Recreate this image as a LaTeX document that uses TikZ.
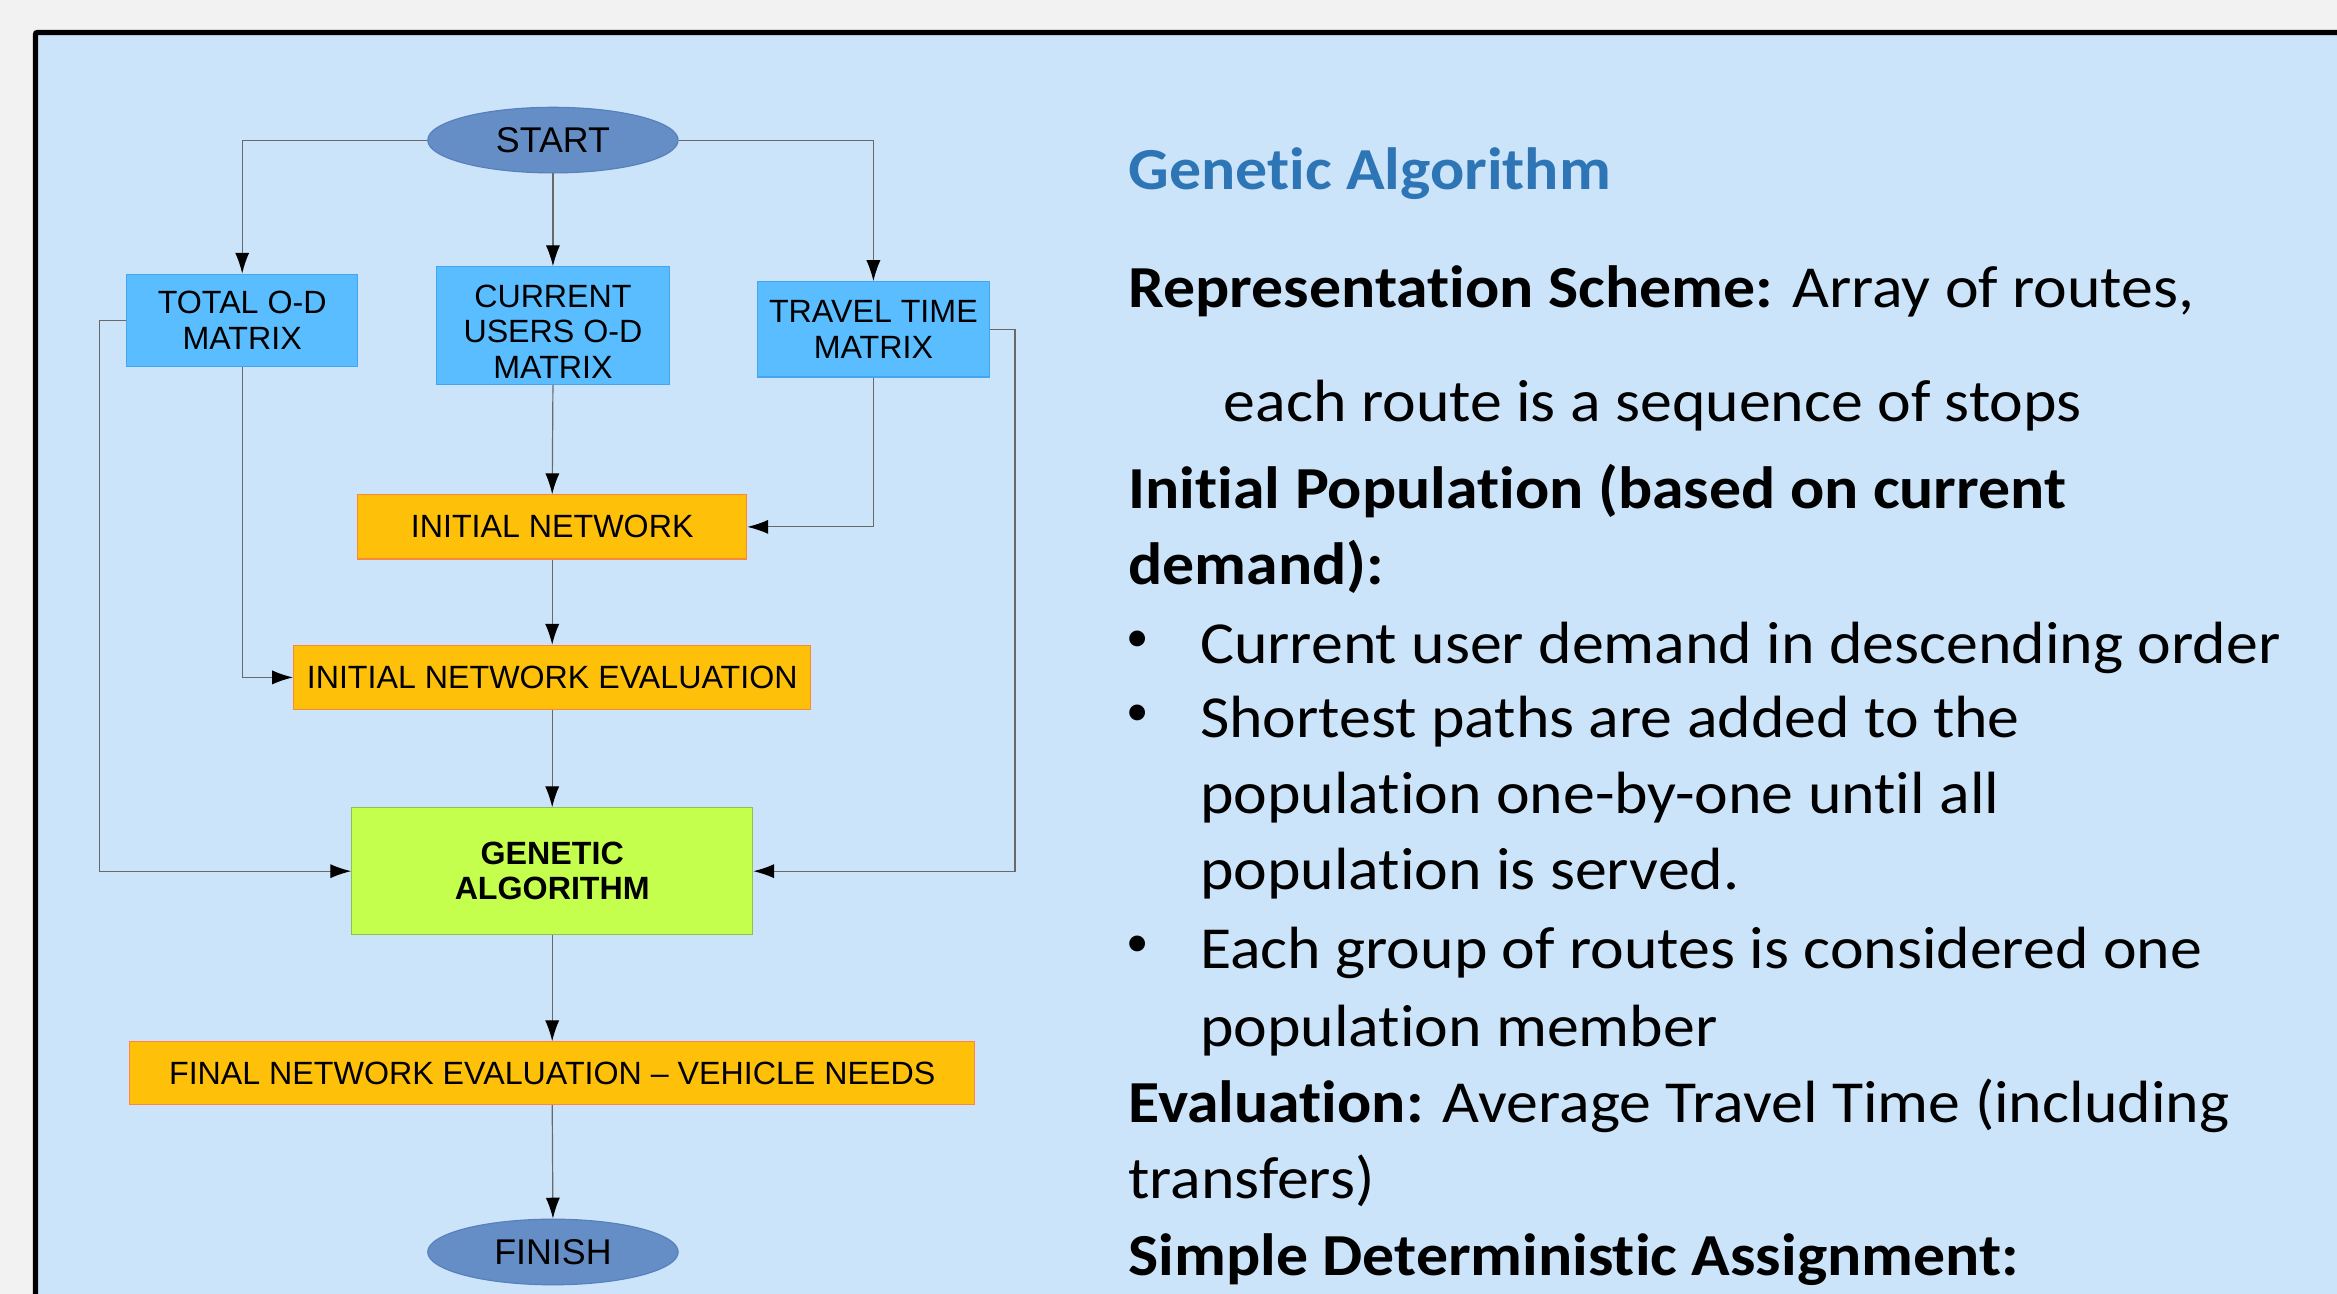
\documentclass[tikz,border=0pt]{standalone}
\usepackage{fontspec}
\setmainfont{Carlito}[Ligatures={TeX,NoCommon},FakeStretch=1.07]
\newfontfamily\bulfont{Carlito}
\newfontfamily\arialf{Liberation Sans}
\usetikzlibrary{arrows.meta,shapes.geometric}
\definecolor{bgout}{RGB}{242,242,242}
\definecolor{panel}{RGB}{204,228,249}
\definecolor{ovalfill}{RGB}{101,142,199}
\definecolor{ovaldraw}{RGB}{88,128,188}
\definecolor{matfill}{RGB}{89,189,255}
\definecolor{matdraw}{RGB}{70,165,240}
\definecolor{orfill}{RGB}{255,192,10}
\definecolor{ordraw}{RGB}{255,135,60}
\definecolor{grfill}{RGB}{196,255,77}
\definecolor{grdraw}{RGB}{140,195,80}
\definecolor{conn}{RGB}{105,105,105}
\definecolor{titleblue}{RGB}{46,117,182}
\tikzset{
  flowtext/.style={font=\arialf\fontsize{21.6}{23.8}\selectfont, align=center, inner sep=0pt},
  oval/.style={ellipse, flowtext, font=\arialf\fontsize{24}{26}\selectfont, fill=ovalfill, draw=ovaldraw, line width=0.8pt, minimum width=168pt, minimum height=44pt},
  matbox/.style={rectangle, flowtext, fill=matfill, draw=matdraw, line width=0.8pt},
  orbox/.style={rectangle, flowtext, fill=orfill, draw=ordraw, line width=0.8pt},
  grbox/.style={rectangle, flowtext, fill=grfill, draw=grdraw, line width=0.8pt, font=\arialf\bfseries\fontsize{21.6}{23.8}\selectfont},
  link/.style={draw=conn, line width=0.8pt, -{Latex[length=14pt,width=9.5pt,color=black]}},
  body/.style={anchor=base west, inner sep=0pt, font=\fontsize{40}{48}\selectfont},
  bul/.style={anchor=center, inner sep=0pt, font=\bulfont\fontsize{30}{36}\selectfont},
}
\begin{document}
\begin{tikzpicture}[x=1pt,y=-1pt]
\useasboundingbox (0,0) rectangle (1568,868);
\fill[bgout] (0,0) rectangle (1568,868);
\fill[panel] (22,20) rectangle (1580,880);
\draw[line width=3.5pt, rounded corners=1.5pt] (23.75,880) -- (23.75,21.75) -- (1580,21.75);

% flowchart
\node[oval] (start) at (371,94) {START};
\node[matbox, minimum width=155pt, minimum height=62pt] (tot) at (162.5,215) {TOTAL O-D\\MATRIX};
\node[matbox, minimum width=156pt, minimum height=79pt] (cur) at (371,218.5) {};
\node[flowtext] (curtxt) at (371,222.5) {CURRENT\\USERS O-D\\MATRIX};
\node[matbox, minimum width=156pt, minimum height=64pt] (trav) at (586,221) {TRAVEL TIME\\MATRIX};
\node[orbox, minimum width=261pt, minimum height=43pt] (inet) at (370.5,353.5) {INITIAL NETWORK};
\node[orbox, minimum width=347pt, minimum height=43pt] (ine) at (370.5,454.5) {INITIAL NETWORK EVALUATION};
\node[grbox, minimum width=269pt, minimum height=85pt] (ga) at (370.5,584.5) {GENETIC\\ALGORITHM};
\node[orbox, minimum width=567pt, minimum height=42pt] (fin) at (370.5,720) {FINAL NETWORK EVALUATION – VEHICLE NEEDS};
\node[oval] (finish) at (371,840) {FINISH};

\coordinate (lx) at (67,215);
\coordinate (rx) at (681,221);

\draw[link] (start.west) -| (tot.north);
\draw[link] (start.south) -- (cur.north);
\draw[link] (start.east) -| (trav.north);
\draw[link] (cur.south) -- (inet.north);
\draw[link] (trav.south) |- (inet.east);
\draw[link] (tot.south) |- (ine.west);
\draw[link] (inet.south) -- (ine.north);
\draw[link] (ine.south) -- (ga.north);
\draw[link] (tot.west) -- (lx) |- (ga.west);
\draw[link] (trav.east) -- (rx) |- (ga.east);
\draw[link] (ga.south) -- (fin.north);
\draw[link] (fin.south) -- (finish.north);

% text
\node[body, text=titleblue, font=\bfseries\fontsize{40}{48}\selectfont] (t0) at (757,127) {Genetic Algorithm};
\node[body] (t1) at (757,206) {\textbf{Representation Scheme:} Array of routes,};
\node[body] (t2) at (821,283) {each route is a sequence of stops};
\node[body] (t3) at (757,341) {\textbf{Initial Population (based on current}};
\node[body] (t4) at (757,392) {\textbf{demand):}};
\node[bul] (b1) at (763.5,430) {•};
\node[body] (t5) at (805,445) {Current user demand in descending order};
\node[bul] (b2) at (763.5,480) {•};
\node[body] (t6) at (805,495) {Shortest paths are added to the};
\node[body] (t7) at (805,546) {population one-by-one until all};
\node[body] (t8) at (805,597) {population is served.};
\node[bul] (b3) at (763.5,635) {•};
\node[body] (t9) at (805,650) {Each group of routes is considered one};
\node[body] (t10) at (805,702) {population member};
\node[body] (t11) at (757,753) {\textbf{Evaluation:} Average Travel Time (including};
\node[body] (t12) at (757,804) {transfers)};
\node[body] (t13) at (757,856) {\textbf{Simple Deterministic Assignment:}};
\end{tikzpicture}
\end{document}
